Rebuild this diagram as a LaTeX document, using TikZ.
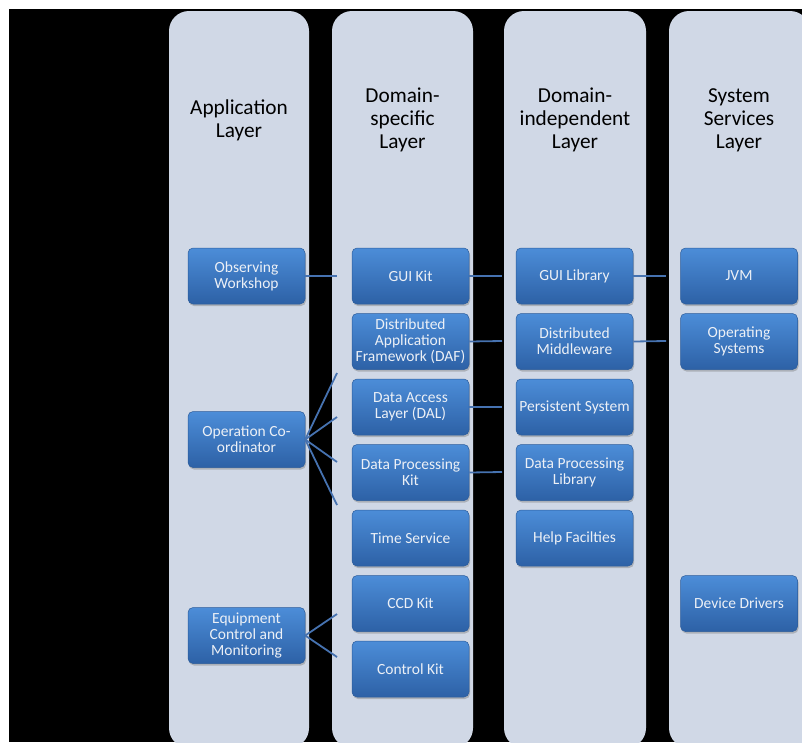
\documentclass[tikz,border=0pt]{standalone}
\usepackage{fontspec}
\setmainfont{Carlito}
\usetikzlibrary{shadows}
\definecolor{colfill}{RGB}{208,216,230}
\definecolor{boxtop}{RGB}{76,141,216}
\definecolor{boxbot}{RGB}{45,97,166}
\definecolor{boxedge}{RGB}{44,92,155}
\definecolor{linkc}{RGB}{70,114,176}
\definecolor{boxtext}{RGB}{236,240,246}
\begin{document}
\begin{tikzpicture}[x=1pt,y=-1pt,
  layercol/.style={fill=colfill, draw=none, rounded corners=20pt},
  hdr/.style={font=\fontsize{21.3}{23}\selectfont, align=center, text=black, inner sep=0pt},
  box/.style={rectangle, rounded corners=5pt, minimum width=117pt, minimum height=56pt,
    top color=boxtop, bottom color=boxbot, draw=boxedge, line width=0.5pt,
    text=boxtext, align=center, font=\fontsize{15.5}{16}\selectfont, inner sep=1pt,
    drop shadow={opacity=0.45, shadow xshift=1pt, shadow yshift=-2pt}},
  link/.style={draw=linkc, line width=1.8pt}]
\useasboundingbox (0,0) rectangle (802,742);
\clip (0,0) rectangle (802,742);
\fill[white] (0,0) rectangle (802,742);
\fill[black] (9,9) rectangle (802,742);
% columns
\path[layercol] (169,11) rectangle (309,748);
\path[layercol] (332,11) rectangle (473,748);
\path[layercol] (504,11) rectangle (646,748);
\path[layercol] (669,11) rectangle (810,748);
% headers
\node[hdr] (h1) at (239,120) {Application\\Layer};
\node[hdr] (h2) at (402.5,120) {Domain-\\specific\\Layer};
\node[hdr] (h3) at (575,120) {Domain-\\independent\\Layer};
\node[hdr] (h4) at (739,120) {System\\Services\\Layer};
% application layer
\node[box] (ow) at (246.5,276) {Observing\\Workshop};
\node[box] (oc) at (246.5,439.5) {Operation Co-\\ordinator};
\node[box] (ec) at (246.5,635.5) {Equipment\\Control and\\Monitoring};
% domain-specific
\node[box] (gk) at (410.5,276) {GUI Kit};
\node[box] (daf) at (410.5,341.5) {Distributed\\Application\\Framework (DAF)};
\node[box] (dal) at (410.5,407) {Data Access\\Layer (DAL)};
\node[box] (dpk) at (410.5,472.5) {Data Processing\\Kit};
\node[box] (ts) at (410.5,538) {Time Service};
\node[box] (ccd) at (410.5,603.5) {CCD Kit};
\node[box] (ck) at (410.5,669) {Control Kit};
% domain-independent
\node[box] (gl) at (574.5,276) {GUI Library};
\node[box] (dm) at (574.5,341.5) {Distributed\\Middleware};
\node[box] (ps) at (574.5,407) {Persistent System};
\node[box] (dpl) at (574.5,472.5) {Data Processing\\Library};
\node[box] (hf) at (574.5,538) {Help Facilties};
% system services
\node[box] (jvm) at (739,276) {JVM};
\node[box] (os) at (739,341.5) {Operating\\Systems};
\node[box] (dd) at (739,603.5) {Device Drivers};
% free ends
\coordinate (owE) at (337,276);
\coordinate (gkE) at (502,276);
\coordinate (glE) at (666,276);
\coordinate (dafE) at (502,341);
\coordinate (dmE) at (666,341);
\coordinate (dalE) at (502,407);
\coordinate (dpkE) at (502,472);
\coordinate (oc1) at (337,373);
\coordinate (oc2) at (337,417);
\coordinate (oc3) at (337,462);
\coordinate (oc4) at (337,505);
\coordinate (ec1) at (337,614);
\coordinate (ec2) at (337,657);
% connectors
\draw[link] (ow.east) -- (owE);
\draw[link] (gk.east) -- (gkE);
\draw[link] (gl.east) -- (glE);
\draw[link] (daf.east) -- (dafE);
\draw[link] (dm.east) -- (dmE);
\draw[link] (dal.east) -- (dalE);
\draw[link] (dpk.east) -- (dpkE);
\draw[link] (oc.east) -- (oc1);
\draw[link] (oc.east) -- (oc2);
\draw[link] (oc.east) -- (oc3);
\draw[link] (oc.east) -- (oc4);
\draw[link] (ec.east) -- (ec1);
\draw[link] (ec.east) -- (ec2);
\end{tikzpicture}
\end{document}
